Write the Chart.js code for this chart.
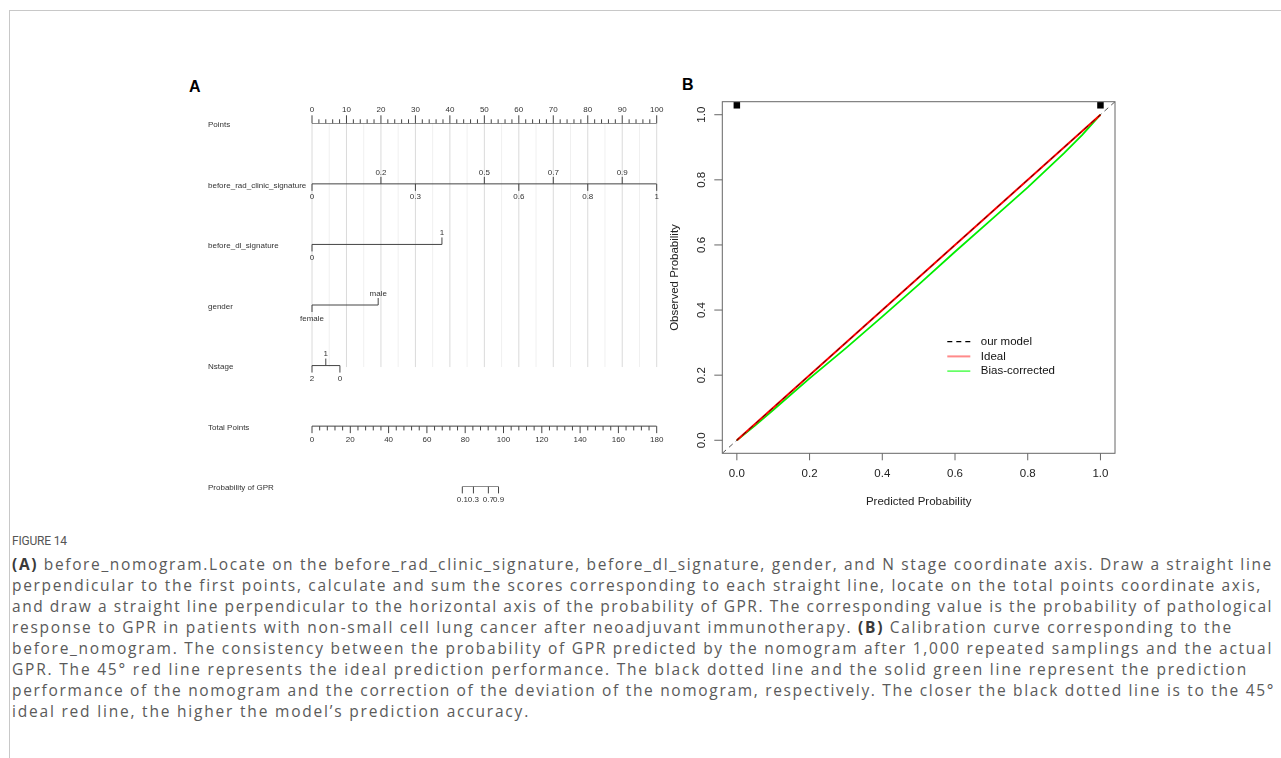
<!DOCTYPE html>
<html>
<head>
<meta charset="utf-8">
<script src="https://cdn.jsdelivr.net/npm/chart.js@4.4.1/dist/chart.umd.min.js"></script>
<style>
html,body{margin:0;padding:0;background:#fff;width:1281px;height:758px;overflow:hidden;}
#frame{position:absolute;left:9px;top:10px;width:1400px;height:900px;border-top:1px solid #c8c8c8;border-left:1px solid #c8c8c8;}
.letter{position:absolute;font:bold 16px "Liberation Sans",Arial,sans-serif;line-height:16px;color:#000;}
#capHead{position:absolute;left:12px;top:533px;font:12px Roboto,sans-serif;line-height:16px;color:#555;letter-spacing:-0.2px;}
#caption{position:absolute;left:12px;top:554px;font:15.5px "Open Sans",sans-serif;line-height:21px;color:#5a5a5a;white-space:nowrap;}
#caption b{color:#3a3a3a;}
canvas{position:absolute;}
</style>
</head>
<body>
<div id="frame"></div>
<div class="letter" style="left:189px;top:79px;">A</div>
<div class="letter" style="left:682px;top:77px;">B</div>
<canvas id="nomo" width="500" height="460" style="left:180px;top:60px;width:500px;height:460px;"></canvas>
<canvas id="calib" width="520" height="460" style="left:640px;top:60px;width:520px;height:460px;"></canvas>
<div id="capHead">FIGURE 14</div>
<div id="caption"></div>
<script>
// ================= Panel A: nomogram data =================
const rowNames = ['Points','before_rad_clinic_signature','before_dl_signature','gender','Nstage','Total Points','Probability of GPR'];
const pointsRange = [0, 100];
const pointsTickLabels = [0,10,20,30,40,50,60,70,80,90,100];
const totalPointsRange = [0, 180];
const totalPointsTickLabels = [0,20,40,60,80,100,120,140,160,180];

const radLabels = ['0','0.2','0.3','0.5','0.6','0.7','0.8','0.9','1'];
const radPoints = [0,20,30,50,60,70,80,90,100];
const dlLabels = ['0','1'];
const dlPoints = [0,37.7];
const genderLabels = ['female','male'];
const genderPoints = [0,19.2];
const nstageLabels = ['2','1','0'];
const nstagePoints = [0,4.0,8.1];
const gprLabels = ['0.1','0.3','0.7','0.9'];
const gprTotalPoints = [78.5,84.3,92.1,97.4];

// ================= Panel B: calibration data =================
const calibTicks = [0,0.2,0.4,0.6,0.8,1.0];
const modelX = [-0.04,1.04];
const modelY = [-0.04,1.04];
const idealX = [0,1];
const idealY = [0,1];
const biasX = [0,0.05,0.1,0.2,0.3,0.4,0.5,0.6,0.7,0.8,0.9,0.95,1];
const biasY = [0,0.045,0.093,0.19,0.283,0.38,0.478,0.579,0.678,0.777,0.882,0.938,1];
const histX = [0,1];
const histY = [1.029,1.029];

// ================= Caption =================
const capLines = [
 '<b>(A)</b> before_nomogram.Locate on the before_rad_clinic_signature, before_dl_signature, gender, and N stage coordinate axis. Draw a straight line',
 'perpendicular to the first points, calculate and sum the scores corresponding to each straight line, locate on the total points coordinate axis,',
 'and draw a straight line perpendicular to the horizontal axis of the probability of GPR. The corresponding value is the probability of pathological',
 'response to GPR in patients with non-small cell lung cancer after neoadjuvant immunotherapy. <b>(B)</b> Calibration curve corresponding to the',
 'before_nomogram. The consistency between the probability of GPR predicted by the nomogram after 1,000 repeated samplings and the actual',
 'GPR. The 45° red line represents the ideal prediction performance. The black dotted line and the solid green line represent the prediction',
 'performance of the nomogram and the correction of the deviation of the nomogram, respectively. The closer the black dotted line is to the 45°',
 'ideal red line, the higher the model’s prediction accuracy.'
];
const capLineWidths = [1261,1250,1261,1221,1261,1236,1263,518];
(function(){
  const cap = document.getElementById('caption');
  capLines.forEach((l,i) => {
    const d=document.createElement('div'); const s=document.createElement('span'); s.innerHTML=l; d.appendChild(s); cap.appendChild(d);
    const w = s.getBoundingClientRect().width;
    const n = s.textContent.length;
    d.style.letterSpacing = ((capLineWidths[i] - w) / n).toFixed(3) + 'px';
  });
})();

// ================= Panel A chart =================
const variables = [
  {row:1, labels:radLabels, pts:radPoints},
  {row:2, labels:dlLabels, pts:dlPoints},
  {row:3, labels:genderLabels, pts:genderPoints},
  {row:4, labels:nstageLabels, pts:nstagePoints}
];
const axisDatasets = [
  {data:[{x:pointsRange[0],y:0},{x:pointsRange[1],y:0}], xAxisID:'x'},
  ...variables.map(v => ({data:[{x:Math.min(...v.pts),y:v.row},{x:Math.max(...v.pts),y:v.row}], xAxisID:'x'})),
  {data:[{x:totalPointsRange[0],y:5},{x:totalPointsRange[1],y:5}], xAxisID:'xt'},
  {data:[{x:Math.min(...gprTotalPoints),y:6},{x:Math.max(...gprTotalPoints),y:6}], xAxisID:'xt'}
];

const FONT_A = '8px "Liberation Sans", Arial, sans-serif';
const nomoPlugin = {
  id:'nomo',
  beforeDatasetsDraw(chart){
    const {ctx, scales} = chart; const x=scales.x, y=scales.y;
    const top = y.getPixelForValue(0), bottom = y.getPixelForValue(4)+1.5;
    ctx.save(); ctx.lineWidth=1;
    for(let p=pointsRange[0]; p<=pointsRange[1]; p+=5){
      const px = x.getPixelForValue(p);
      ctx.strokeStyle = (p%10===0) ? '#dadada' : '#f0f0f0';
      ctx.beginPath(); ctx.moveTo(px, top); ctx.lineTo(px, bottom); ctx.stroke();
    }
    ctx.restore();
  },
  afterDatasetsDraw(chart){
    const {ctx, scales, chartArea} = chart; const x=scales.x, xt=scales.xt, y=scales.y;
    ctx.save();
    ctx.strokeStyle='#444'; ctx.lineWidth=1; ctx.fillStyle='#333'; ctx.font=FONT_A;
    const vline=(px,y0,y1)=>{ctx.beginPath();ctx.moveTo(px,y0);ctx.lineTo(px,y1);ctx.stroke();};
    const text=(s,px,py)=>{ctx.textAlign='center';ctx.textBaseline='middle';ctx.fillText(s,px,py);};
    rowNames.forEach((n,i)=>{ctx.textAlign='left';ctx.textBaseline='middle';ctx.fillText(n, chartArea.left-104, y.getPixelForValue(i)+1.5);});
    // Points axis (ticks up)
    const y0 = y.getPixelForValue(0);
    for(let p=pointsRange[0]; p<=pointsRange[1]; p+=2){ vline(x.getPixelForValue(p), y0, y0-((p%10===0)?8:4)); }
    pointsTickLabels.forEach(v=>text(String(v), x.getPixelForValue(v), y0-13.3));
    // variables
    variables.forEach(v=>{
      const py = y.getPixelForValue(v.row);
      v.pts.forEach((p,i)=>{
        const px = x.getPixelForValue(p); const up = (i%2===1);
        vline(px, py, up ? py-7 : py+7);
        text(v.labels[i], px, up ? py-11.5 : py+13.4);
      });
    });
    // Total points (ticks down)
    const y5 = y.getPixelForValue(5);
    for(let p=totalPointsRange[0]; p<=totalPointsRange[1]; p+=4){ vline(xt.getPixelForValue(p), y5, y5+((p%20===0)?7:4.3)); }
    totalPointsTickLabels.forEach(v=>text(String(v), xt.getPixelForValue(v), y5+13.6));
    // Probability of GPR
    const y6 = y.getPixelForValue(6);
    gprTotalPoints.forEach((p,i)=>{ const px=xt.getPixelForValue(p); vline(px, y6, y6+6.7); text(gprLabels[i], px, y6+13.3); });
    ctx.restore();
  }
};

new Chart(document.getElementById('nomo'), {
  type:'line',
  data:{datasets: axisDatasets.map(d=>Object.assign({borderColor:'#444', borderWidth:1, pointRadius:0, tension:0, fill:false}, d))},
  options:{
    responsive:false, animation:false, events:[], devicePixelRatio:1,
    layout:{padding:{left:132, right:23.3, top:63.3, bottom:33.3}},
    scales:{
      x:{type:'linear', position:'bottom', min:pointsRange[0], max:pointsRange[1], display:false},
      xt:{type:'linear', axis:'x', position:'bottom', min:totalPointsRange[0], max:totalPointsRange[1], display:false},
      y:{type:'linear', min:0, max:6, reverse:true, display:false}
    },
    plugins:{legend:{display:false}, tooltip:{enabled:false}}
  },
  plugins:[nomoPlugin]
});

// ================= Panel B chart =================
const FONT_B = '11.5px "Liberation Sans", Arial, sans-serif';
const toXY = (xs, ys) => xs.map((v,i)=>({x:v, y:ys[i]}));
const calibPlugin = {
  id:'calib',
  afterDatasetsDraw(chart){
    const {ctx, chartArea:a, scales:{x,y}} = chart;
    ctx.save();
    ctx.strokeStyle='#666'; ctx.lineWidth=1;
    ctx.strokeRect(a.left, a.top, a.right-a.left, a.bottom-a.top);
    ctx.fillStyle='#222'; ctx.font=FONT_B;
    calibTicks.forEach(t=>{
      const px=x.getPixelForValue(t);
      ctx.beginPath(); ctx.moveTo(px,a.bottom); ctx.lineTo(px,a.bottom+7); ctx.stroke();
      ctx.textAlign='center'; ctx.textBaseline='middle'; ctx.fillText(t.toFixed(1), px, a.bottom+21);
      const py=y.getPixelForValue(t);
      ctx.beginPath(); ctx.moveTo(a.left,py); ctx.lineTo(a.left-8,py); ctx.stroke();
      ctx.save(); ctx.translate(a.left-20, py); ctx.rotate(-Math.PI/2); ctx.fillText(t.toFixed(1),0,0); ctx.restore();
    });
    ctx.textAlign='center'; ctx.textBaseline='middle';
    ctx.fillText('Predicted Probability', (a.left+a.right)/2, a.bottom+49);
    ctx.save(); ctx.translate(a.left-47, (a.top+a.bottom)/2); ctx.rotate(-Math.PI/2); ctx.fillText('Observed Probability',0,0); ctx.restore();
    // legend
    const items = chart.data.datasets.filter(d=>d.inLegend);
    const lx = a.left+225, ly = a.top+240;
    items.forEach((d,i)=>{
      const yy = ly + i*14.7;
      ctx.save(); ctx.strokeStyle=d.legendColor||d.borderColor; ctx.lineWidth=d.legendWidth||d.borderWidth;
      ctx.setLineDash(d.borderDash||[]);
      ctx.beginPath(); ctx.moveTo(lx,yy); ctx.lineTo(lx+23,yy); ctx.stroke(); ctx.restore();
      ctx.fillStyle='#111'; ctx.textAlign='left'; ctx.textBaseline='middle'; ctx.fillText(d.label, lx+33.5, yy);
    });
    ctx.restore();
  }
};

new Chart(document.getElementById('calib'), {
  type:'line',
  data:{datasets:[
    {label:'our model', inLegend:true, legendColor:'#000', legendWidth:1.2, data:toXY(modelX,modelY), borderColor:'rgba(0,0,0,0.75)', borderWidth:0.9, borderDash:[5,4], pointRadius:0, tension:0, order:0},
    {label:'Ideal', inLegend:true, legendColor:'#ff8a8a', legendWidth:2, data:toXY(idealX,idealY), borderColor:'#ff0000', borderWidth:2, pointRadius:0, tension:0, order:1},
    {label:'Bias-corrected', inLegend:true, legendColor:'#33ff33', legendWidth:1.3, data:toXY(biasX,biasY), borderColor:'#00ee00', borderWidth:1.8, pointRadius:0, tension:0, order:2},
    {label:'hist', type:'scatter', data:toXY(histX,histY), pointStyle:'rect', pointRadius:4.6, backgroundColor:'#000', borderWidth:0, showLine:false, order:3, clip:false}
  ]},
  options:{
    responsive:false, animation:false, events:[], devicePixelRatio:1,
    layout:{padding:{left:82.3, right:45, top:41.7, bottom:66.7}},
    scales:{
      x:{type:'linear', min:-0.04, max:1.04, display:false},
      y:{type:'linear', min:-0.04, max:1.04, display:false}
    },
    plugins:{legend:{display:false}, tooltip:{enabled:false}}
  },
  plugins:[calibPlugin]
});
</script>
</body>
</html>
